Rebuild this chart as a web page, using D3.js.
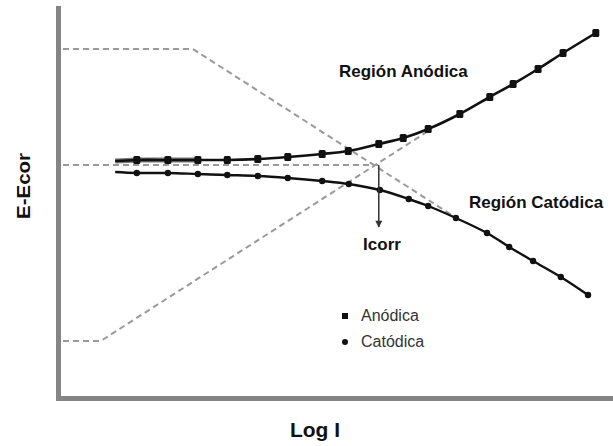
<!DOCTYPE html>
<html>
<head>
<meta charset="utf-8">
<script src="https://cdn.jsdelivr.net/npm/d3@7"></script>
<style>
  html, body { margin: 0; padding: 0; background: #fff; }
  svg { display: block; font-family: Arial, "Liberation Sans", sans-serif; }
</style>
</head>
<body>
<svg id="chart" width="613" height="446"></svg>
<script>
// ---- Data (log I in decades, E - Ecorr in mV) ----
const anodicLogI = [-8.97, -8.58, -8.02, -7.48, -6.95, -6.40, -5.86, -5.24, -4.77, -4.22, -3.78, -3.33, -2.76, -2.22, -1.80, -1.35, -0.90, -0.31];
const anodicE    = [4, 5, 5, 5, 5, 6, 8, 11, 14, 21, 27, 36, 51, 68, 81, 96, 112, 132];
const cathodicLogI = [-8.97, -8.58, -8.02, -7.48, -6.95, -6.40, -5.86, -5.24, -4.76, -4.20, -3.68, -3.33, -2.83, -2.27, -1.87, -1.44, -0.94, -0.45];
const cathodicE    = [-7, -8, -8, -9, -10, -11, -13, -16, -19, -25, -34, -41, -53, -68, -82, -96, -112, -130];
const markerFrom = 1; // first point of each curve is the unmarked line start

// Tafel extrapolation lines (dashed)
const tafelCathLogI = [-9.91, -7.57, -2.85];
const tafelCathE    = [116, 116, -52];
const tafelAnodLogI = [-9.91, -9.23, -3.30];
const tafelAnodE    = [-176, -176, 35];
const ecorrLogI = [-9.91, -4.23];
const ecorrE    = [0, 0];

const icorrLogI = -4.22;
const icorrE = [0, -62];

const labels = {
  anodic: "Región Anódica",
  cathodic: "Región Catódica",
  icorr: "Icorr",
  xTitle: "Log I",
  yTitle: "E-Ecor"
};
const legendNames = ["Anódica", "Catódica"];

// ---- Scales ----
const x = d3.scaleLinear().domain([-10, 0]).range([58, 613]);
const y = d3.scaleLinear().domain([-233, 157]).range([398, 8]);

const svg = d3.select("#chart");

// ---- Axes (no ticks) ----
const axisColor = "#858585";
svg.append("g")
  .attr("transform", `translate(${x(-10)},0)`)
  .call(d3.axisLeft(y).tickValues([]).tickSizeOuter(0))
  .call(g => g.select(".domain").attr("stroke", axisColor).attr("stroke-width", 5).attr("stroke-linecap", "square"));
svg.append("g")
  .attr("transform", `translate(0,${y(-233)})`)
  .call(d3.axisBottom(x).tickValues([]).tickSizeOuter(0))
  .call(g => g.select(".domain").attr("stroke", axisColor).attr("stroke-width", 5).attr("stroke-linecap", "square"));

// ---- Dashed Tafel lines ----
const lineLin = d3.line().x(d => x(d[0])).y(d => y(d[1]));
const dashed = [
  d3.zip(tafelCathLogI, tafelCathE),
  d3.zip(tafelAnodLogI, tafelAnodE),
  d3.zip(ecorrLogI, ecorrE)
];
svg.append("g").selectAll("path").data(dashed).join("path")
  .attr("d", lineLin)
  .attr("fill", "none")
  .attr("stroke", "#9a9a9a")
  .attr("stroke-width", 2)
  .attr("stroke-dasharray", "6,4");

// ---- Curves ----
const curveLine = d3.line().x(d => x(d[0])).y(d => y(d[1])).curve(d3.curveCatmullRom);
const anodic = d3.zip(anodicLogI, anodicE);
const cathodic = d3.zip(cathodicLogI, cathodicE);

svg.append("path").datum(anodic.slice(0, 4))
  .attr("d", curveLine).attr("fill", "none")
  .attr("stroke", "#777").attr("stroke-width", 5);
svg.append("path").datum(anodic)
  .attr("d", curveLine).attr("fill", "none")
  .attr("stroke", "#111").attr("stroke-width", 2.6);
svg.append("path").datum(cathodic)
  .attr("d", curveLine).attr("fill", "none")
  .attr("stroke", "#111").attr("stroke-width", 2.4);

const sq = 7;
svg.append("g").selectAll("rect").data(anodic.slice(markerFrom)).join("rect")
  .attr("x", d => x(d[0]) - sq / 2)
  .attr("y", d => y(d[1]) - sq / 2 - 0.5)
  .attr("width", sq).attr("height", sq + 1)
  .attr("rx", 1.5)
  .attr("fill", "#111");
svg.append("g").selectAll("circle").data(cathodic.slice(markerFrom)).join("circle")
  .attr("cx", d => x(d[0]))
  .attr("cy", d => y(d[1]))
  .attr("r", 3.2)
  .attr("fill", "#111");

// ---- Icorr arrow ----
svg.append("defs").append("marker")
  .attr("id", "arrow")
  .attr("viewBox", "0 0 10 10")
  .attr("refX", 9).attr("refY", 5)
  .attr("markerWidth", 8).attr("markerHeight", 7)
  .attr("markerUnits", "userSpaceOnUse")
  .attr("orient", "auto")
  .append("path").attr("d", "M0,0L10,5L0,10Z").attr("fill", "#333");
svg.append("line")
  .attr("x1", x(icorrLogI)).attr("x2", x(icorrLogI))
  .attr("y1", y(icorrE[0])).attr("y2", y(icorrE[1]))
  .attr("stroke", "#333").attr("stroke-width", 1.5)
  .attr("marker-end", "url(#arrow)");

// ---- Labels ----
svg.append("text").attr("x", 339).attr("y", 77)
  .attr("font-size", 17).attr("font-weight", "bold").attr("fill", "#111")
  .text(labels.anodic);
svg.append("text").attr("x", 469).attr("y", 208)
  .attr("font-size", 17).attr("font-weight", "bold").attr("fill", "#111")
  .text(labels.cathodic);
svg.append("text").attr("x", 382).attr("y", 250)
  .attr("text-anchor", "middle")
  .attr("font-size", 17).attr("font-weight", "bold").attr("fill", "#111")
  .text(labels.icorr);
svg.append("text").attr("x", 315).attr("y", 437)
  .attr("text-anchor", "middle")
  .attr("font-size", 21).attr("font-weight", "bold").attr("fill", "#111")
  .text(labels.xTitle);
svg.append("text")
  .attr("transform", "translate(30,186) rotate(-90)")
  .attr("text-anchor", "middle")
  .attr("font-size", 19).attr("font-weight", "bold").attr("fill", "#111")
  .attr("textLength", 66).attr("lengthAdjust", "spacingAndGlyphs")
  .text(labels.yTitle);

// ---- Legend ----
const legend = svg.append("g").attr("transform", "translate(345,316)");
legend.append("rect").attr("x", -3).attr("y", -3).attr("width", 6).attr("height", 6).attr("fill", "#111");
legend.append("circle").attr("cx", 0).attr("cy", 26).attr("r", 3).attr("fill", "#111");
legend.selectAll("text").data(legendNames).join("text")
  .attr("x", 16)
  .attr("y", (d, i) => 5 + i * 26)
  .attr("font-size", 16)
  .attr("fill", "#333")
  .text(d => d);
</script>
</body>
</html>
